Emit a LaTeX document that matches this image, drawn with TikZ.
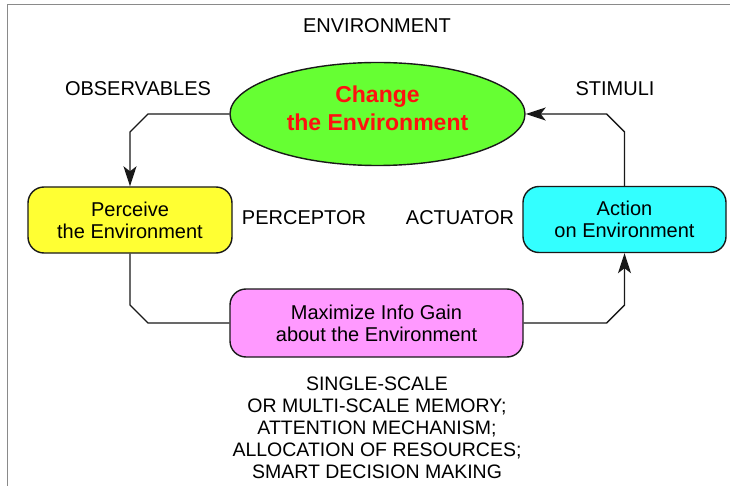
\documentclass[tikz,border=0pt]{standalone}
\usepackage{fontspec}
\setmainfont{Liberation Sans}
\usetikzlibrary{shapes.geometric,arrows.meta,calc}
\definecolor{boxgreen}{HTML}{66FF33}
\definecolor{boxyellow}{HTML}{FFFF33}
\definecolor{boxcyan}{HTML}{33FFFF}
\definecolor{boxpink}{HTML}{FF99FF}
\definecolor{txtred}{HTML}{FF1010}
\definecolor{framegray}{HTML}{8A8A8A}
\begin{document}
\begin{tikzpicture}[x=1pt,y=-1pt,
  lbl/.style={font=\fontsize{20}{22}\selectfont, inner sep=0pt},
  proc/.style={draw=black!90, line width=1.4pt, rounded corners=16pt, minimum width=#1, minimum height=66pt, inner sep=0pt, align=center, font=\fontsize{20}{22}\selectfont},
  conn/.style={draw=black!90, line width=1.4pt},
  arr/.style={conn, -{Stealth[length=20pt,width=13pt,inset=5pt]}}]
\useasboundingbox (0,0) rectangle (730,486);
\fill[white] (0,0) rectangle (730,486);
\draw[framegray, line width=1.5pt] (7.5,486) -- (7.5,4.5) -- (730,4.5);

\node[lbl] (envlbl) at (377,26) {ENVIRONMENT};
\node[ellipse, draw=black!90, line width=1.4pt, fill=boxgreen, minimum width=295pt, minimum height=103pt, inner sep=0pt] (ell) at (377.5,114) {};
\node[align=center, inner sep=0pt, font=\fontsize{23}{28}\selectfont\bfseries, text=txtred] (elltxt) at (377.5,108) {Change\\the Environment};

\node[lbl] (obs) at (138,89) {OBSERVABLES};
\node[lbl] (stim) at (615,89) {STIMULI};

\node[proc=204pt, fill=boxyellow] (per) at (130,220) {Perceive\\the Environment};
\node[proc=203pt, fill=boxcyan] (act) at (624.5,219.5) {Action\\on Environment};
\node[lbl] (perc) at (304,218) {PERCEPTOR};
\node[lbl] (actu) at (460,218) {ACTUATOR};

\node[proc=293pt, fill=boxpink, minimum height=68pt] (max) at (376.5,323) {Maximize Info Gain\\about the Environment};

\node[lbl, align=center, font=\fontsize{19.5}{22}\selectfont] (mem) at (377,427.5) {SINGLE-SCALE\\OR MULTI-SCALE MEMORY;\\ATTENTION MECHANISM;\\ALLOCATION OF RESOURCES;\\SMART DECISION MAKING};

\draw[arr] (ell.west) -- ($(per.north |- ell.west)+(18,0)$) -- ($(per.north |- ell.west)+(0,18)$) -- (per.north);
\draw[arr] (act.north) -- ($(act.north |- ell.east)+(0,18)$) -- ($(act.north |- ell.east)+(-18,0)$) -- (ell.east);
\draw[conn] (per.south) -- ($(per.south |- max.west)+(0,-18)$) -- ($(per.south |- max.west)+(18,0)$) -- (max.west);
\draw[arr] (max.east) -- ($(act.south |- max.east)+(-18,0)$) -- ($(act.south |- max.east)+(0,-18)$) -- (act.south);
\end{tikzpicture}
\end{document}
